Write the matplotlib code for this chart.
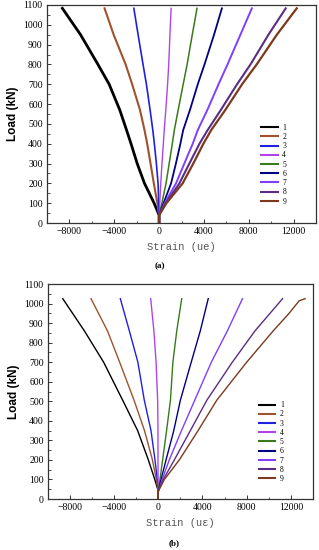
import matplotlib
matplotlib.use("Agg")
import matplotlib.pyplot as plt
from matplotlib.ticker import MultipleLocator

# ---------------- data ----------------
series_names = ["1", "2", "3", "4", "5", "6", "7", "8", "9"]
colors = ["#000000", "#a0522d", "#2020e0", "#b044e8", "#3a7a1a",
          "#000080", "#7f3fff", "#5a2d82", "#7b3a1e"]

# panel (a): measured strain (ue) at these loads (kN)
loads_a = [0, 40, 100, 200, 300, 400, 469, 570, 700, 800, 950, 1083]
strain_a1 = [0, 0, -440, -1300, -1950, -2500, -2900, -3500, -4450, -5450, -7000, -8620]
strain_a2 = [0, 0, -150, -470, -760, -1060, -1300, -1700, -2400, -2980, -4050, -4860]
strain_a3 = [0, 0, -30, -90, -240, -420, -560, -800, -1130, -1430, -1870, -2250]
strain_a4 = [0, 0, 60, 150, 260, 380, 460, 600, 760, 860, 970, 1070]
strain_a5 = [0, 0, 250, 620, 900, 1180, 1360, 1700, 2150, 2500, 2960, 3380]
strain_a6 = [0, 0, 400, 1070, 1500, 1900, 2150, 2750, 3450, 4050, 4900, 5600]
strain_a7 = [0, 0, 500, 1510, 2250, 3000, 3450, 4300, 5300, 6100, 7250, 8270]
strain_a8 = [0, 0, 600, 1810, 2700, 3600, 4330, 5500, 6950, 8150, 9750, 11290]
strain_a9 = [0, 0, 650, 2100, 3050, 3950, 4650, 5900, 7400, 8700, 10500, 12270]

# panel (b): computed strain (uε) at these loads (kN)
loads_b = [0, 40, 100, 200, 350, 506, 700, 860, 1025]
strain_b1 = [0, 0, -320, -900, -1870, -3230, -4950, -6690, -8650]
strain_b2 = [0, 0, -180, -530, -1250, -2200, -3500, -4600, -6090]
strain_b3 = [0, 0, -90, -300, -660, -1270, -1850, -2620, -3440]
strain_b4 = [0, 0, -20, -30, -30, -60, -200, -400, -690]
strain_b5 = [0, 0, 150, 390, 750, 1100, 1320, 1670, 2120]
strain_b6 = [0, 0, 250, 700, 1400, 2000, 2980, 3800, 4520]
strain_b7 = [0, 0, 350, 990, 2100, 3300, 4800, 6250, 7620]
strain_b8 = [0, 0, 450, 1450, 2900, 4400, 6700, 8750, 11250]
loads_b9 = [0, 40, 100, 200, 350, 506, 700, 860, 950, 1014, 1025]
strain_b9 = [0, 0, 550, 1900, 3600, 5300, 8000, 10400, 11840, 12750, 13290]

strain_a = [strain_a1, strain_a2, strain_a3, strain_a4, strain_a5,
            strain_a6, strain_a7, strain_a8, strain_a9]
strain_b = [strain_b1, strain_b2, strain_b3, strain_b4, strain_b5,
            strain_b6, strain_b7, strain_b8, strain_b9]
loads_b_all = [loads_b] * 8 + [loads_b9]

x_ticks = [-8000, -4000, 0, 4000, 8000, 12000]
y_ticks = list(range(0, 1101, 100))

# ---------------- figure ----------------
fig = plt.figure(figsize=(3.19, 5.5), dpi=100)
ax_a = fig.add_axes([0.147, 0.5945, 0.844, 0.3965])
ax_b = fig.add_axes([0.150, 0.0927, 0.831, 0.3909])

lw_a = [2.0, 1.5, 1.2, 1.0, 1.1, 1.3, 1.4, 1.5, 1.6]

for i in range(9):
    ax_a.plot(strain_a[i], loads_a, color=colors[i], lw=lw_a[i], label=series_names[i])
    ax_b.plot(strain_b[i], loads_b_all[i], color=colors[i], lw=1.0, label=series_names[i])

serif = "Liberation Serif"
for ax, xlabel in [(ax_a, "Strain (ue)"), (ax_b, "Strain (u\u03b5)")]:
    ax.set_xlim(-10000, 14000)
    ax.set_ylim(0, 1100)
    ax.set_xticks(x_ticks)
    ax.set_yticks(y_ticks)
    ax.xaxis.set_minor_locator(MultipleLocator(2000))
    ax.yaxis.set_minor_locator(MultipleLocator(50))
    ax.tick_params(which="both", direction="in", labelsize=7, pad=3, color="#333333")
    ax.tick_params(which="major", length=3, width=0.7)
    ax.tick_params(which="minor", length=1.8, width=0.6)
    for lab in ax.get_xticklabels() + ax.get_yticklabels():
        lab.set_fontfamily(serif)
    for s in ax.spines.values():
        s.set_color("#333333")
        s.set_linewidth(0.9)
    ax.set_ylabel("Load (kN)", fontfamily="Liberation Sans", fontweight="bold",
                  fontsize=8.5, labelpad=3)
    ax.set_xlabel(xlabel, fontfamily="Liberation Mono", fontsize=7.5, color="#555555",
                  labelpad=4)
    leg = ax.legend(loc="upper left", bbox_to_anchor=(0.795, 0.455),
                    frameon=False, fontsize=5.5, handlelength=2.2, handletextpad=0.6,
                    labelspacing=0.16, borderaxespad=0, borderpad=0)
    for t in leg.get_texts():
        t.set_fontfamily(serif)
    for h in leg.get_lines():
        h.set_linewidth(1.5)

fig.text(0.50, 1 - 266 / 550, "(a)", ha="center", va="center", fontsize=6.5,
         fontweight="bold", fontfamily=serif)
fig.text(0.545, 1 - 543 / 550, "(b)", ha="center", va="center", fontsize=6.5,
         fontweight="bold", fontfamily=serif)

fig.savefig("out.png", dpi=100)
